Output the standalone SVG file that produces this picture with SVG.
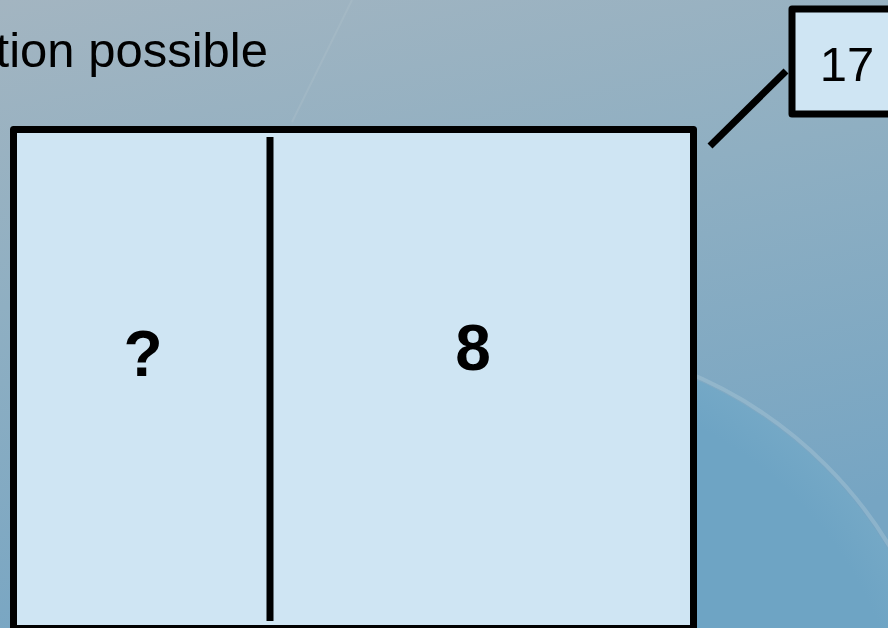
<svg xmlns="http://www.w3.org/2000/svg" width="888" height="628" viewBox="0 0 888 628">
  <defs>
    <linearGradient id="bg" x1="0" y1="0" x2="0.3" y2="1">
      <stop offset="0" stop-color="#a3b5c1"/>
      <stop offset="0.45" stop-color="#8fafc2"/>
      <stop offset="1" stop-color="#76a5c3"/>
    </linearGradient>
    <radialGradient id="disc" cx="524" cy="767" r="424" gradientUnits="userSpaceOnUse">
      <stop offset="0.9" stop-color="#6ea4c4"/>
      <stop offset="1" stop-color="#74a8c6"/>
    </radialGradient>
    <style>
      .box { fill: #cfe5f3; stroke: #000; stroke-width: 7; stroke-linejoin: round; }
      .ln { stroke: #000; stroke-width: 7; stroke-linecap: butt; fill: none; }
      .lbl { font-family: "Liberation Sans", Arial, sans-serif; fill: #000; }
    </style>
  </defs>
  <g id="background">
    <rect x="0" y="0" width="888" height="628" fill="url(#bg)"/>
    <circle cx="524" cy="767" r="424" fill="url(#disc)"/>
    <circle cx="524" cy="767" r="427" fill="none" stroke="#a9c6d4" stroke-width="4" opacity="0.45"/>
    <line x1="352" y1="0" x2="292" y2="122" stroke="#b8c8d0" stroke-width="2" opacity="0.25"/>
  </g>
  <g id="title">
    <text class="lbl" x="268" y="67" font-size="49" text-anchor="end">tion possible</text>
  </g>
  <g id="main-box">
    <rect class="box" x="13.5" y="129.5" width="680" height="499"/>
  </g>
  <g id="left-cell">
    <text class="lbl" x="143" y="376" font-size="64" font-weight="bold" text-anchor="middle">?</text>
  </g>
  <g id="right-cell">
    <text class="lbl" x="473" y="370" font-size="64" font-weight="bold" text-anchor="middle">8</text>
  </g>
  <g id="label-box">
    <rect class="box" x="792" y="9" width="120" height="105"/>
    <text class="lbl" x="847" y="81" font-size="49" text-anchor="middle">17</text>
  </g>
  <g id="connectors">
    <line class="ln" x1="270" y1="137" x2="270" y2="621"/>
    <line class="ln" x1="710" y1="146" x2="786" y2="71"/>
  </g>
</svg>
